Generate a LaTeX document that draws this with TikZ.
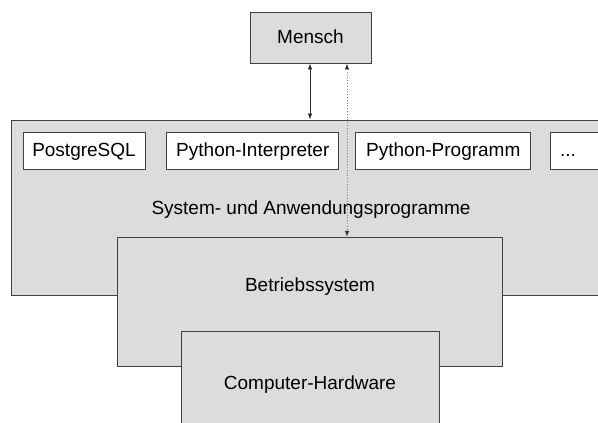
\documentclass[tikz,border=0pt]{standalone}
\usepackage{fontspec}
\setmainfont{Liberation Sans}
\usetikzlibrary{arrows.meta}
\definecolor{layerfill}{HTML}{DCDCDC}
\definecolor{edge}{HTML}{404040}
\begin{document}
\begin{tikzpicture}[x=1pt,y=-1pt,
  txt/.style={font=\fontsize{19}{23}\selectfont},
  layer/.style={draw=edge, fill=layerfill, line width=0.9pt, inner sep=0pt},
  prog/.style={draw=edge, fill=white, line width=0.9pt, inner sep=0pt,
    minimum height=37pt, txt, text height=13.7pt, text depth=2.5pt},
  link/.style={draw=black!85, line width=0.8pt, {Latex[length=6pt,width=4.5pt]}-{Latex[length=6pt,width=4.5pt]}},
  hint/.style={draw=black!50, line width=0.8pt, dotted,
    {Latex[length=6pt,width=4.5pt,color=black!80]}-{Latex[length=6pt,width=4.5pt,color=black!80]}}]
\useasboundingbox (0,0) rectangle (598,423);
\clip (0,0) rectangle (598,423);

% application layer with its programs
\node[layer, minimum width=600pt, minimum height=175pt] (apps) at (311,207.5) {};
\node[txt, anchor=base] (appslabel) at (311,214) {System- und Anwendungsprogramme};
\node[prog, minimum width=122pt] (pg) at (84,151.3) {PostgreSQL};
\node[prog, minimum width=172pt] (interp) at (252.8,151.3) {Python-Interpreter};
\node[prog, minimum width=175pt] (pyprog) at (443.3,151.3) {Python-Programm};
\node[prog, minimum width=56pt, text width=56pt, align=left] (more) at (578,151.3) {\hspace*{10pt}...};

% operating system and hardware
\node[layer, minimum width=385.4pt, minimum height=128.7pt] (os) at (310,301.6) {};
\node[txt, anchor=base] (oslabel) at (310,291.7) {Betriebssystem};
\node[layer, minimum width=257.7pt, minimum height=110pt] (hw) at (310.2,386) {};
\node[txt, anchor=base] (hwlabel) at (310,389.3) {Computer-Hardware};

% the user
\node[layer, minimum width=121pt, minimum height=51pt, txt, text height=13.7pt, text depth=2.5pt] (mensch) at (310.5,37.5) {Mensch};

% interactions
\coordinate (direct) at (310,0);
\coordinate (through) at (347,0);
\draw[link] (mensch.south -| direct) -- (apps.north -| direct);
\draw[hint] (mensch.south -| through) -- (os.north -| through);
\end{tikzpicture}
\end{document}
